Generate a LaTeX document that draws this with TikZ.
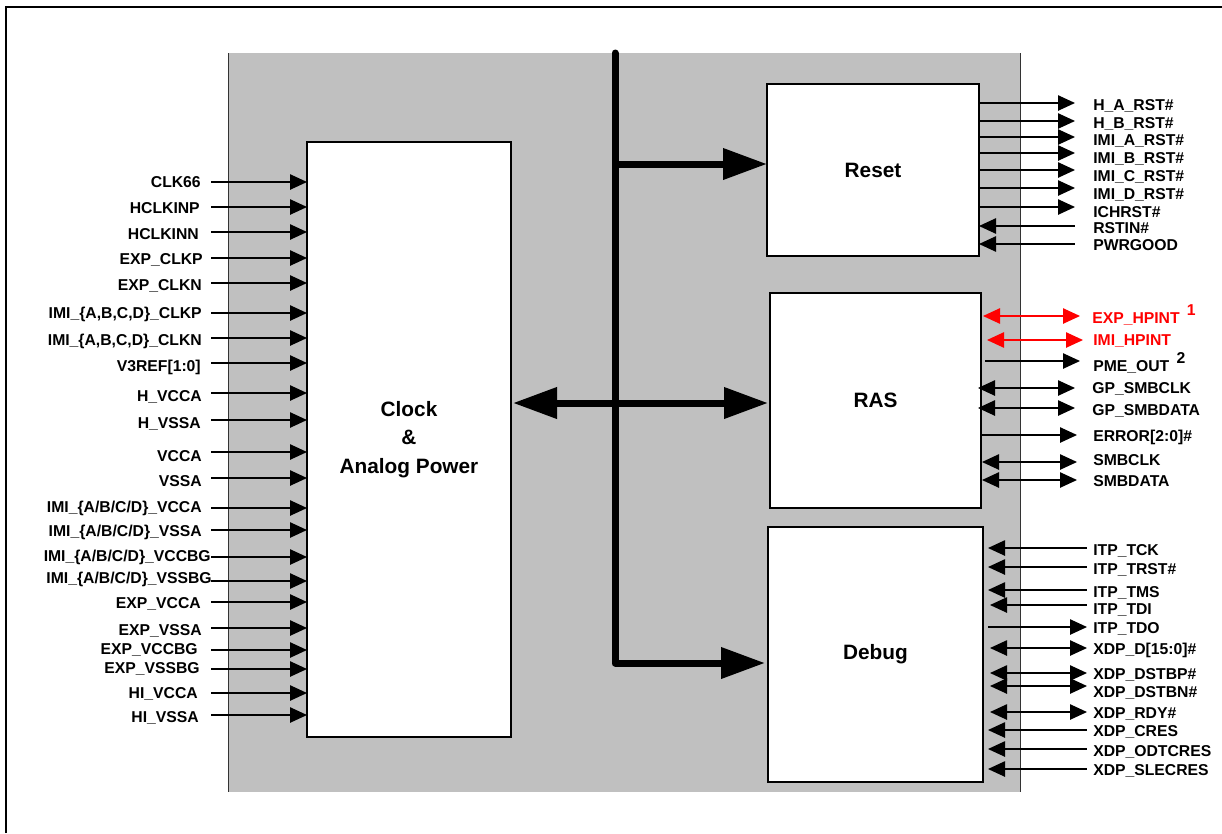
\documentclass[tikz,border=0pt]{standalone}
\usepackage{fontspec}
\setmainfont{Liberation Sans}
\usetikzlibrary{arrows.meta}
\definecolor{bgray}{HTML}{C0C0C0}
\definecolor{sigred}{HTML}{FF0000}
\tikzset{
  bigtip/.tip={Triangle[length=33pt,width=22.5pt]},
  >={Triangle[length=12.75pt,width=11.5pt]},
  sig/.style={line width=1.1pt},
  bus/.style={line width=5.25pt},
  lab/.style={font=\bfseries\fontsize{11.8}{14}\selectfont, inner sep=0pt},
  blk/.style={draw, fill=white, line width=0.8pt, inner sep=0pt, outer sep=0pt,
              align=center, font=\bfseries\fontsize{15.6}{19.5}\selectfont},
}
\begin{document}
\begin{tikzpicture}[x=0.75pt,y=-0.75pt]
\useasboundingbox (0,0) rectangle (1222,833);
% frame
\draw[line width=1.5pt] (6,833) -- (6,7) -- (1222,7);
% gray region
\fill[bgray] (228,53) rectangle (1020,792);
\draw[gray!40!black, line width=0.6pt] (228,53) -- (228,792);
\draw[gray!40!black, line width=0.6pt] (1020,53) -- (1020,792);
% blocks
\node[blk, minimum width=153pt, minimum height=446.25pt] (clock) at (409,439.5) {Clock\\[2pt]\&\\[2pt]Analog Power};
\node[blk, minimum width=159pt, minimum height=129pt] (reset) at (873,170) {Reset};
\node[blk, minimum width=158.25pt, minimum height=161.25pt] (ras) at (875.5,400.5) {RAS};
\node[blk, minimum width=161.25pt, minimum height=191.25pt] (debug) at (875.5,654.5) {Debug};
% bus
\coordinate (btop) at (615,53);
\coordinate (bbot) at (615,663);
\coordinate (bdbg) at (765,663);
\coordinate (brst) at (615,164);
\coordinate (brasl) at (513,403);
\coordinate (brasr) at (768,403);
\draw[bus, line cap=round, line join=round, -bigtip] (btop) -- (bbot) -- (bdbg);
\draw[bus, -bigtip] (brst) -- (reset.west |- brst);
\draw[bus, bigtip-bigtip] (brasl) -- (brasr);
% left signals
\foreach \ly/\ty/\tx/\lab [count=\i] in {
  182/182/201/{CLK66},
  207/208/200/{HCLKINP},
  232/234/199/{HCLKINN},
  258/259/203/{EXP\_CLKP},
  283/285/202/{EXP\_CLKN},
  313/313/202/{IMI\_\{A,B,C,D\}\_CLKP},
  338/340/202/{IMI\_\{A,B,C,D\}\_CLKN},
  363/366/201/{V3REF[1:0]},
  393/396/202/{H\_VCCA},
  420/423/201/{H\_VSSA},
  452/456/202/{VCCA},
  478/481/202/{VSSA},
  508/507/202/{IMI\_\{A/B/C/D\}\_VCCA},
  530/531/202/{IMI\_\{A/B/C/D\}\_VSSA},
  557/556/211/{IMI\_\{A/B/C/D\}\_VCCBG},
  581/578/212/{IMI\_\{A/B/C/D\}\_VSSBG},
  602/603/201/{EXP\_VCCA},
  628/630/202/{EXP\_VSSA},
  650/649/198/{EXP\_VCCBG},
  669/668/200/{EXP\_VSSBG},
  693/693/198/{HI\_VCCA},
  715/717/199/{HI\_VSSA}}{
  \coordinate (ls\i) at (211,\ly);
  \draw[sig,->] (ls\i) -- (clock.west |- ls\i);
  \node[lab, anchor=base east] (ll\i) at (\tx,\ty+5.6) {\lab};
}
% reset outputs
\foreach \ly/\ty/\lab [count=\i] in {
  103/105/{H\_A\_RST\#},
  121/122.5/{H\_B\_RST\#},
  137/140/{IMI\_A\_RST\#},
  153/158/{IMI\_B\_RST\#},
  170/176/{IMI\_C\_RST\#},
  188/194/{IMI\_D\_RST\#},
  207/212/{ICHRST\#}}{
  \coordinate (ro\i) at (1075,\ly);
  \draw[sig,->] (reset.east |- ro\i) -- (ro\i);
  \node[lab, anchor=base west] (rol\i) at (1093,\ty+5.6) {\lab};
}
\foreach \ly/\ty/\lab [count=\i] in {
  226/228/{RSTIN\#},
  244/245/{PWRGOOD}}{
  \coordinate (ri\i) at (1075,\ly);
  \draw[sig,<-] (reset.east |- ri\i) -- (ri\i);
  \node[lab, anchor=base west] (ril\i) at (1093,\ty+5.6) {\lab};
}
% RAS
\draw[sig, sigred, <->] (983,316) -- (1080,316);
\node[lab, sigred, anchor=base west] (exphp) at (1092,318+5.6) {EXP\_HPINT};
\node[lab, sigred, anchor=base west] (n1) at ([xshift=5pt,yshift=6pt]exphp.base east) {1};
\draw[sig, sigred, <->] (987,340) -- (1083,340);
\node[lab, sigred, anchor=base west] (imihp) at (1093,340+5.6) {IMI\_HPINT};
\draw[sig, ->] (985,361) -- (1080,361);
\node[lab, anchor=base west] (pme) at (1093,366+5.6) {PME\_OUT};
\node[lab, anchor=base west] (n2) at ([xshift=5pt,yshift=6pt]pme.base east) {2};
\draw[sig, <->] (978,388) -- (1075,388);
\node[lab, anchor=base west] (gpclk) at (1092,388+5.6) {GP\_SMBCLK};
\draw[sig, <->] (978,408) -- (1075,408);
\node[lab, anchor=base west] (gpdat) at (1092,410+5.6) {GP\_SMBDATA};
\draw[sig, ->] (981,435) -- (1077,435);
\node[lab, anchor=base west] (err) at (1093,436+5.6) {ERROR[2:0]\#};
\draw[sig, <->] (982,462) -- (1077,462);
\node[lab, anchor=base west] (smbclk) at (1093,460+5.6) {SMBCLK};
\draw[sig, <->] (982,480) -- (1077,480);
\node[lab, anchor=base west] (smbdat) at (1093,481+5.6) {SMBDATA};
% Debug
\foreach \ly/\ty/\lab/\a/\x [count=\i] in {
  548/550/{ITP\_TCK}/{<-}/988,
  567/569/{ITP\_TRST\#}/{<-}/988,
  590/592/{ITP\_TMS}/{<-}/988,
  605/609/{ITP\_TDI}/{<-}/990,
  627/628/{ITP\_TDO}/{->}/988,
  648/649/{XDP\_D[15:0]\#}/{<->}/990,
  673/674/{XDP\_DSTBP\#}/{<->}/990,
  686/692/{XDP\_DSTBN\#}/{<->}/990,
  712/713/{XDP\_RDY\#}/{<->}/990,
  730/731/{XDP\_CRES}/{<-}/988,
  749/751/{XDP\_ODTCRES}/{<-}/988,
  769/770/{XDP\_SLECRES}/{<-}/988}{
  \coordinate (ds\i) at (1087,\ly);
  \draw[sig,\a] (\x,\ly) -- (ds\i);
  \node[lab, anchor=base west] (dl\i) at (1093,\ty+5.6) {\lab};
}
\end{tikzpicture}
\end{document}
